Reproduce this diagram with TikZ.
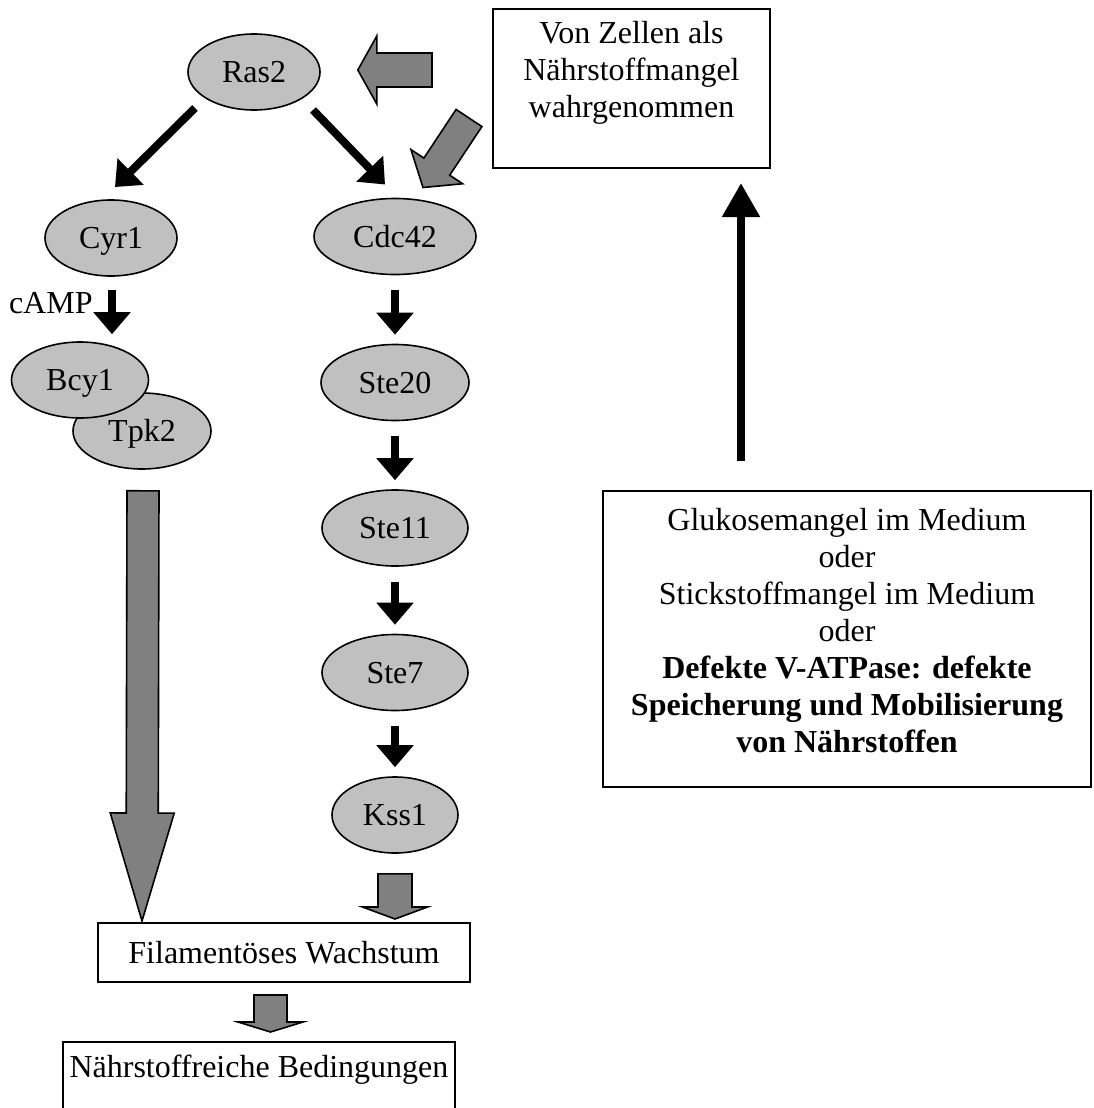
\documentclass[tikz,border=0pt]{standalone}
\usepackage{fontspec}
\setmainfont{Liberation Serif}
\usetikzlibrary{arrows.meta,calc,shapes.geometric}
\definecolor{protfill}{HTML}{C0C0C0}
\definecolor{arrowfill}{HTML}{808080}

\tikzset{
  prot/.style={ellipse, draw, line width=0.8pt, fill=protfill, inner sep=0pt, minimum height=38pt,
    text height=10.5pt, text depth=0pt},
  infobox/.style={draw, line width=1pt, inner sep=0pt},
  blk/.style={-{Triangle[width=18pt,length=11pt]}, line width=4pt},
  blockarr/.style={fill=arrowfill, draw, line width=0.8pt, line join=miter},
}

% gray block arrow: tail, tip, shaft half width, head half width, head length
\newcommand{\blockarrow}[5]{%
  \coordinate (ba-t) at #1;
  \coordinate (ba-h) at #2;
  \coordinate (ba-b) at ($(ba-h)!#5!(ba-t)$);
  \filldraw[blockarr]
    ($(ba-t)!#3!90:(ba-h)$) -- ($(ba-b)!#3!-90:(ba-t)$) -- ($(ba-b)!#4!-90:(ba-t)$)
    -- (ba-h) -- ($(ba-b)!#4!90:(ba-t)$) -- ($(ba-b)!#3!90:(ba-t)$)
    -- ($(ba-t)!#3!-90:(ba-h)$) -- cycle;
}

\begin{document}
\begin{tikzpicture}[x=0.5pt, y=-0.5pt, every node/.style={font=\fontsize{16}{18.5}\selectfont}]
\useasboundingbox (0,0) rectangle (1093,1108);

% === proteins ===
\node[prot, minimum width=66pt] (ras2) at (254,72) {Ras2};
\node[prot, minimum width=66pt] (cyr1) at (111,238) {Cyr1};
\node[prot, minimum width=69pt] (tpk2) at (142,431) {Tpk2};
\node[prot, minimum width=68.5pt] (bcy1) at (80,380) {Bcy1};

\node[prot, minimum width=81pt] (cdc42) at (395,236.5) {Cdc42};
\node[prot, minimum width=74pt] (ste20) at (395,382.5) {Ste20};
\node[prot, minimum width=73pt] (ste11) at (395,528) {Ste11};
\node[prot, minimum width=73pt] (ste7) at (395,672.5) {Ste7};
\node[prot, minimum width=63pt] (kss1) at (395,815) {Kss1};

% === boxes ===
\node[infobox, minimum width=138.5pt, minimum height=79.5pt] (vz) at (631.5,88.5)
  {\parbox[c][79.5pt][t]{135pt}{\centering\vspace*{6pt}Von Zellen als\\Nährstoffmangel\\wahrgenommen}};
\node[infobox, minimum width=244pt, minimum height=148pt] (gluk) at (847,639)
  {\parbox[c][148pt][c]{240pt}{\centering Glukosemangel im Medium\\oder\\Stickstoffmangel im Medium\\oder\\
   {\bfseries Defekte V-ATPase: defekte\\Speicherung und Mobilisierung\\von Nährstoffen}\par\vspace{8pt}}};
\node[infobox, minimum width=186pt, minimum height=29.5pt] (filam) at (284,952.5) {Filamentöses Wachstum};
\node[infobox, minimum width=196pt, minimum height=36.5pt] (nahr) at (259,1078.5)
  {\parbox[c][36.5pt][t]{192pt}{\centering\vspace*{6.5pt}Nährstoffreiche Bedingungen}};

\node[inner sep=0pt, anchor=base east] (camp) at (93,313) {cAMP};

% === black arrows ===
\draw[blk] ($(ras2)+(-59,36)$) -- ($(cyr1)+(4,-51)$);
\draw[blk] ($(ras2)+(59,38)$) -- ($(cdc42)+(-10,-52)$);
\draw[blk] ($(cyr1.south)+(1,13)$) -- ($(cyr1.south |- bcy1.north)+(1,-7)$);
\foreach \a/\b in {cdc42/ste20, ste20/ste11, ste11/ste7, ste7/kss1}
  \draw[blk, shorten <=7.5pt, shorten >=4.5pt] (\a) -- (\b);
\draw[blk, -{Triangle[width=18pt,length=17pt]}] ($(gluk.north)+(-106,-29)$) -- ($(vz.south)+(109.5,14)$);

% === gray block arrows ===
\blockarrow{($(vz.west)+(-60,-18.5)$)}{($(ras2.east)+(37,-2)$)}{8.5pt}{17pt}{9.5pt}
\blockarrow{($(vz.west)+(-23,29.5)$)}{($(cdc42)+(28,-49)$)}{7.75pt}{15.5pt}{12.5pt}
\blockarrow{($(tpk2.south)+(1,21)$)}{($(filam.north west)+(45,-1)$)}{8pt}{16pt}{54pt}
\blockarrow{($(kss1.south)+(0,20)$)}{($(kss1.south |- filam.north)+(0,-3)$)}{8.5pt}{16.25pt}{6pt}
\blockarrow{($(filam.south)+(-13.5,12)$)}{($(filam.south |- nahr.north)+(-13.5,-9)$)}{8.25pt}{16.25pt}{5pt}

\end{tikzpicture}
\end{document}
